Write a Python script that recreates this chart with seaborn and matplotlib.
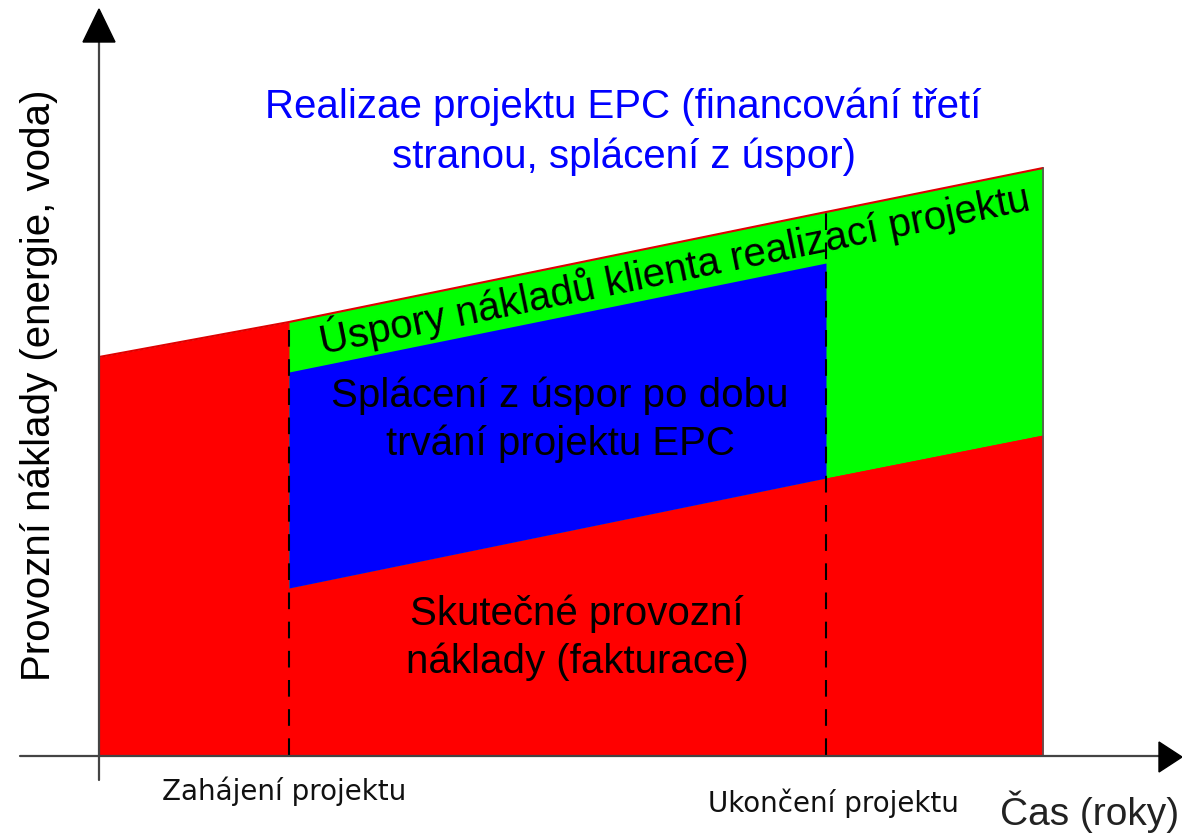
import numpy as np
import matplotlib
matplotlib.use('Agg')
import matplotlib.pyplot as plt
from matplotlib.patches import Polygon
import seaborn as sns

# %%
# casova osa a naklady (jednotky, pocatek v pruseciku os)
cas = [0, 190, 727, 944]                 # zacatek, zahajeni, ukonceni, konec
puvodni_naklady = [398, 433, 543, 587]   # naklady bez projektu (horni hrana)
skutecne_naklady = [None, 167, 277, 320] # skutecne provozni naklady po zahajeni
splaceni_horni = [383, 492]              # horni hrana splaceni (zahajeni -> ukonceni)

zahajeni, ukonceni, konec = cas[1], cas[2], cas[3]

# %%
sns.set_style('white')
plt.rcParams['font.family'] = ['Liberation Sans', 'DejaVu Sans']

fig = plt.figure(figsize=(11.82, 8.34), dpi=100)
ax = fig.add_axes([0, 0, 1, 1])
ax.set_xlim(-99, 1083)
ax.set_ylim(-79, 755)
ax.axis('off')

cas_arr = np.array(cas)
puv = np.array(puvodni_naklady)
sk = np.array(skutecne_naklady[1:])

# cervena - vse pod puvodnimi naklady
ax.fill_between(cas_arr, 0, puv, color='#FF0000', lw=0, zorder=1)
# zelena - uspory po zahajeni
ax.fill_between(cas_arr[1:], sk, puv[1:], color='#00FF00', lw=0, zorder=2)
# cervena - skutecne naklady
ax.fill_between(cas_arr[1:], 0, sk, color='#FF0000', lw=0, zorder=3)
# modra - splaceni z uspor
ax.fill_between(cas_arr[1:3], sk[:2], splaceni_horni, color='#0000FF', lw=0, zorder=4)

# horni hrana
sns.lineplot(x=cas, y=puvodni_naklady, color='#E00000', lw=1.5, ax=ax, zorder=5)
ax.plot([konec, konec], [0, puv[-1]], color='#555555', lw=1.2, zorder=5)

# prerusovane cary zahajeni / ukonceni
for t, top in [(zahajeni, puv[1]), (ukonceni, puv[2])]:
    ax.plot([t, t], [0, top], color='black', lw=1.5, ls=(0, (8, 6)), zorder=6)

# osy se sipkami
ax.plot([0, 0], [-25, 713], color='#444444', lw=1.6, zorder=7)
ax.plot([-79, 1060], [-1, -1], color='#444444', lw=1.6, zorder=7)
ax.add_patch(Polygon([[0, 746], [-16, 713], [16, 713]], closed=True,
                     color='black', zorder=8))
ax.add_patch(Polygon([[1083, -2], [1060, 13], [1060, -17]], closed=True,
                     color='black', zorder=8))

# %%
# texty
fs = 29
ax.text(524, 637, 'Realizae projektu EPC (financování třetí', color='#0000FF',
        fontsize=fs, ha='center', va='baseline')
ax.text(525, 587, 'stranou, splácení z úspor)', color='#0000FF',
        fontsize=fs, ha='center', va='baseline')

ax.text(461, 348, 'Splácení z úspor po dobu', color='black',
        fontsize=fs, ha='center', va='baseline', zorder=9)
ax.text(461, 300, 'trvání projektu EPC', color='black',
        fontsize=fs, ha='center', va='baseline', zorder=9)

ax.text(478, 130, 'Skutečné provozní', color='black',
        fontsize=fs, ha='center', va='baseline', zorder=9)
ax.text(478, 82, 'náklady (fakturace)', color='black',
        fontsize=fs, ha='center', va='baseline', zorder=9)

ax.text(578, 473, 'Úspory nákladů klienta realizací projektu', color='black',
        fontsize=fs, ha='center', va='baseline', rotation=11.5,
        rotation_mode='anchor', zorder=9)

ax.text(-49, 370, 'Provozní náklady (energie, voda)', color='black',
        fontsize=fs, ha='center', va='baseline', rotation=90,
        rotation_mode='anchor')

ax.text(185.5, -45, 'Zahájení projektu', color='#111111', fontsize=20,
        family='DejaVu Sans', ha='center', va='baseline')
ax.text(734, -57, 'Ukončení projektu', color='#111111', fontsize=20,
        family='DejaVu Sans', ha='center', va='baseline')
ax.text(1080, -70, 'Čas (roky)', color='#222222', fontsize=28,
        ha='right', va='baseline')

plt.savefig('out.png', dpi=100)
